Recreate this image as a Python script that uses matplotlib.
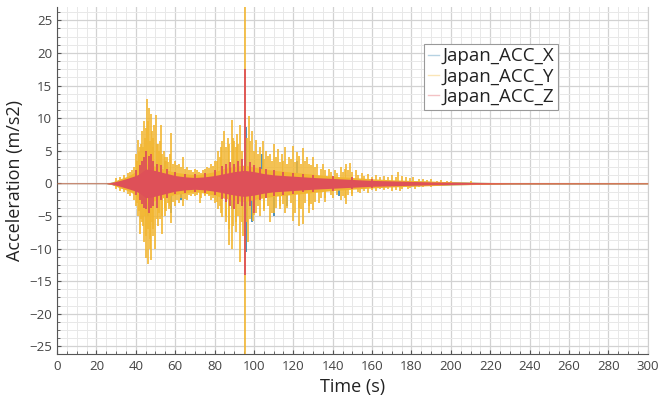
import matplotlib.pyplot as plt
from matplotlib.lines import Line2D
from matplotlib.ticker import MultipleLocator, AutoMinorLocator

plt.rcParams["font.family"] = ["Open Sans", "DejaVu Sans"]

# Envelope of the dense core of each record, m/s2
body_t = [0, 25, 28, 32, 36, 40, 42, 45, 48, 52, 56, 60, 65, 70, 75, 80,
          85, 90, 95, 100, 105, 110, 120, 130, 140, 150, 160, 170, 180,
          190, 200, 215, 230, 300]
body_z = [0.04, 0.04, 0.15, 0.45, 0.8, 1.2, 1.5, 2.2, 2.1, 1.8, 1.5, 1.2,
          1.0, 0.9, 1.0, 1.2, 1.5, 1.8, 2.0, 1.8, 1.5, 1.3, 1.1, 0.9, 0.75,
          0.6, 0.45, 0.38, 0.3, 0.22, 0.18, 0.12, 0.08, 0.06]
body_x = [0.04, 0.04, 0.2, 0.6, 1.0, 1.5, 1.9, 2.7, 2.6, 2.2, 1.8, 1.5,
          1.3, 1.2, 1.3, 1.5, 1.9, 2.3, 2.5, 2.2, 1.9, 1.6, 1.4, 1.1, 0.9,
          0.75, 0.6, 0.45, 0.38, 0.3, 0.22, 0.15, 0.1, 0.08]
body_y = [0.04, 0.04, 0.2, 0.7, 1.1, 1.8, 2.4, 3.0, 2.8, 2.4, 2.0, 1.7,
          1.5, 1.3, 1.5, 1.8, 2.3, 2.6, 2.8, 2.5, 2.2, 2.0, 1.7, 1.4, 1.1,
          0.9, 0.7, 0.55, 0.45, 0.35, 0.25, 0.16, 0.1, 0.08]

# Peak spikes of Japan_ACC_Y (time s, acceleration m/s2)
y_up_t = [38, 40, 41, 42, 43, 44, 45.5, 46.5, 47.5, 48.5, 49.5, 50.3, 51.5,
          53, 54.5, 56, 58, 60, 62, 64, 66, 68, 70, 72, 74, 76, 78, 80, 82,
          84, 85, 87, 88.7, 90, 91.5, 93, 95.5, 97.4, 99, 101, 103, 104.5,
          106, 108, 110, 112, 114, 116, 118, 120, 122, 125, 127, 130, 132,
          135, 138, 141, 144, 147, 149, 152, 155, 158, 162, 166, 170, 173,
          177, 181, 186, 190, 195, 200, 210]
y_up_v = [2.0, 4.5, 6.6, 5.5, 8.0, 9.5, 13.0, 11.5, 10.7, 7.0, 9.0, 10.5,
          6.0, 8.9, 5.0, 4.0, 7.7, 3.5, 3.0, 4.0, 2.5, 2.0, 2.2, 1.8, 2.0,
          2.5, 3.0, 3.5, 5.0, 6.5, 8.1, 7.0, 9.7, 6.5, 7.5, 8.9, 27.0, 10.4,
          8.0, 6.6, 5.5, 6.5, 5.0, 4.5, 6.1, 5.2, 4.5, 5.5, 4.0, 5.8, 4.8,
          5.4, 4.0, 4.0, 3.0, 3.0, 2.2, 2.0, 2.5, 3.0, 3.1, 2.0, 1.6, 1.5,
          1.3, 1.2, 1.3, 1.7, 1.0, 0.9, 0.7, 0.6, 0.5, 0.4, 0.3]
y_lo_t = [40, 41, 42, 43, 44, 45, 46, 47, 47.6, 48.8, 50, 51.5, 53.3, 55,
          57, 58, 60, 62, 64, 66, 68, 70, 72.6, 75, 78, 80, 82, 84, 86,
          87.5, 89, 91, 93, 94.5, 95.5, 97, 99.6, 101, 103, 105, 108, 110,
          113, 116, 120, 123, 125, 128, 130, 133, 136, 140, 144, 147, 150,
          154, 158, 162, 166, 170, 174, 178, 182, 186, 190, 195, 200, 210]
y_lo_v = [-3.5, -5.0, -7.7, -6.0, -9.0, -11.5, -12.3, -10.0, -11.8, -8.0,
          -10.0, -6.5, -7.7, -5.0, -4.0, -6.1, -3.5, -3.0, -3.5, -2.5, -2.0,
          -2.0, -3.0, -2.0, -2.5, -3.0, -4.0, -5.2, -6.0, -9.5, -10.0, -7.5,
          -12.0, -8.0, -26.2, -9.0, -5.7, -4.5, -5.0, -4.0, -6.0, -4.5, -4.0,
          -4.5, -5.7, -6.5, -6.2, -4.5, -4.1, -3.0, -2.8, -2.2, -2.5, -3.1,
          -2.0, -1.5, -1.5, -1.2, -1.0, -1.2, -1.2, -0.9, -0.8, -0.6, -0.5,
          -0.4, -0.3, -0.2]

# Smaller in-between spikes of Japan_ACC_Y
y_fine_t = [30, 32, 34, 36, 37, 39, 40.5, 41.5, 42.5, 43.5, 44.5, 45, 46,
            47, 48, 49, 50.8, 52, 52.5, 53.5, 55, 55.5, 56.5, 57.5, 59, 61,
            63, 65, 67, 69, 71, 73, 75, 77, 79, 81, 83, 83.5, 86, 87.5,
            89.5, 91, 92, 94, 96.5, 98, 100, 102, 105, 107, 109, 111, 113,
            115, 117, 119, 121, 123, 124, 126, 128, 129, 131, 134, 136, 139,
            142, 145, 146, 148, 150, 153, 156, 160, 164, 168, 172, 175, 179,
            184, 188, 193, 198]
y_fine_up = [0.8, 1.0, 1.3, 1.6, 1.8, 2.5, 3.5, 4.8, 6.0, 5.5, 7.0, 8.5,
             9.5, 6.5, 8.0, 5.5, 6.0, 5.0, 6.5, 4.5, 4.0, 3.5, 3.2, 4.5, 3.0,
             2.8, 2.5, 2.2, 2.0, 1.8, 2.0, 1.6, 2.2, 2.4, 2.6, 3.5, 4.0, 5.5,
             5.5, 6.0, 7.0, 5.5, 6.0, 5.0, 7.0, 6.5, 5.0, 4.5, 3.8, 4.2, 3.5,
             4.0, 3.2, 3.5, 3.0, 3.8, 3.2, 4.2, 3.0, 3.5, 3.0, 2.8, 2.5, 2.2,
             2.0, 1.8, 1.6, 1.8, 2.2, 2.0, 1.8, 1.3, 1.2, 1.0, 0.9, 0.9, 1.0,
             1.1, 0.8, 0.6, 0.5, 0.4, 0.35]
y_fine_lo = [-0.8, -1.1, -1.4, -1.7, -2.0, -2.6, -3.0, -4.2, -5.5, -6.5,
             -5.0, -8.0, -7.0, -8.5, -6.0, -7.0, -5.5, -4.5, -5.5, -5.0,
             -3.8, -4.2, -3.0, -3.5, -2.8, -2.5, -2.2, -2.4, -1.8, -1.6,
             -1.8, -2.2, -1.8, -2.0, -2.3, -2.8, -3.5, -4.5, -5.0, -7.0,
             -6.5, -6.0, -5.0, -6.0, -6.0, -5.5, -4.8, -3.5, -4.2, -3.5,
             -4.5, -3.8, -3.5, -3.2, -3.8, -3.0, -4.5, -3.8, -4.0, -3.0,
             -3.5, -3.2, -2.8, -2.2, -2.2, -1.8, -1.8, -2.0, -2.3, -1.8,
             -1.6, -1.3, -1.1, -1.0, -0.9, -0.9, -1.0, -0.9, -0.7, -0.6,
             -0.45, -0.35, -0.3]

# Peak spikes of Japan_ACC_X and Japan_ACC_Z
x_sp_t = [46, 52, 55, 58, 63, 89, 92, 96.0, 96.0, 99, 104, 110, 117, 122,
          143]
x_sp_v = [-5.0, 3.0, 3.5, -4.5, -2.5, -4.0, 3.5, 8.6, -10.6, -6.0, 4.5,
          -5.0, -3.5, 3.5, -2.0]
z_sp_t = [40, 42, 43, 44, 45, 46.5, 47.5, 49, 51, 53, 56, 60, 65, 70, 75,
          80, 84, 86, 88, 90, 92, 94, 95.5, 98, 100, 103, 106, 110, 115,
          120, 125, 130, 140, 150, 160]
z_sp_up = [2.0, 2.8, 3.5, 4.0, 5.0, 4.2, 4.5, 3.5, 3.0, 2.8, 2.2, 1.8, 1.5,
           1.4, 1.6, 2.0, 2.6, 3.0, 3.2, 3.0, 3.5, 3.8, 17.5, 3.2, 2.8, 2.5,
           2.2, 2.0, 1.8, 1.6, 1.5, 1.3, 1.1, 0.9, 0.7]
z_sp_lo = [-1.8, -2.5, -3.2, -3.8, -4.0, -4.5, -3.8, -3.5, -3.8, -2.5,
           -2.2, -1.7, -1.5, -1.3, -1.5, -1.8, -2.4, -2.8, -3.5, -4.0, -3.2,
           -3.5, -14.0, -3.5, -4.5, -2.5, -2.2, -1.9, -1.8, -1.6, -1.4,
           -1.3, -1.1, -0.9, -0.7]

labels = ["Japan_ACC_X", "Japan_ACC_Y", "Japan_ACC_Z"]
colors = ["#2f7fae", "#f2b632", "#de5058"]


def draw_record(ax, t_body, amp, sp_t, sp_v, color, z, lw=0.9):
    ax.fill_between(t_body, [-a for a in amp], amp, color=color,
                    linewidth=0, zorder=z)
    ax.vlines(sp_t, 0, sp_v, color=color, linewidth=lw, zorder=z)


def main():
    fig = plt.figure(figsize=(6.59, 3.98), dpi=100)
    ax = fig.add_axes([0.0865, 0.11, 0.8965, 0.8717])

    draw_record(ax, body_t, body_x, x_sp_t, x_sp_v, colors[0], 2, lw=1.2)
    draw_record(ax, body_t, body_y,
                y_up_t + y_lo_t + y_fine_t + y_fine_t,
                y_up_v + y_lo_v + y_fine_up + y_fine_lo,
                colors[1], 3, lw=1.2)
    draw_record(ax, body_t, body_z, z_sp_t + z_sp_t, z_sp_up + z_sp_lo,
                colors[2], 4, lw=1.3)

    ax.set_xlim(0, 300)
    ax.set_ylim(-26.2, 27.0)
    ax.xaxis.set_major_locator(MultipleLocator(20))
    ax.yaxis.set_major_locator(MultipleLocator(5))
    ax.xaxis.set_minor_locator(AutoMinorLocator(4))
    ax.yaxis.set_minor_locator(AutoMinorLocator(4))

    ax.grid(which="major", color="#d2d2d2", linewidth=0.9, zorder=0)
    ax.grid(which="minor", color="#e8e8e8", linewidth=0.7, zorder=0)
    ax.set_axisbelow(True)

    ax.spines["top"].set_visible(False)
    ax.spines["right"].set_color("#cfcfcf")
    ax.spines["left"].set_color("#555555")
    ax.spines["bottom"].set_color("#555555")

    ax.tick_params(which="both", direction="in", colors="#555555",
                   labelsize=9.5, labelcolor="#444444")
    ax.tick_params(which="major", length=3)
    ax.tick_params(which="minor", length=2)
    ax.tick_params(axis="x", pad=4)

    ax.set_xlabel("Time (s)", fontsize=13, color="#222222", labelpad=4)
    ax.set_ylabel("Acceleration (m/s2)", fontsize=13, color="#222222",
                  labelpad=4)

    handles = [Line2D([], [], color=c, alpha=0.35, linewidth=1)
               for c in colors]
    leg = ax.legend(handles, labels, loc="upper left",
                    bbox_to_anchor=(0.622, 0.895), fontsize=13.5,
                    handlelength=0.6, handletextpad=0.15, labelspacing=0.12,
                    borderpad=0.2, borderaxespad=0, fancybox=False,
                    framealpha=1)
    leg.get_frame().set_edgecolor("#999999")
    leg.get_frame().set_linewidth(0.8)
    for txt in leg.get_texts():
        txt.set_color("#222222")

    fig.savefig("out.png", dpi=100)


if __name__ == "__main__":
    main()
